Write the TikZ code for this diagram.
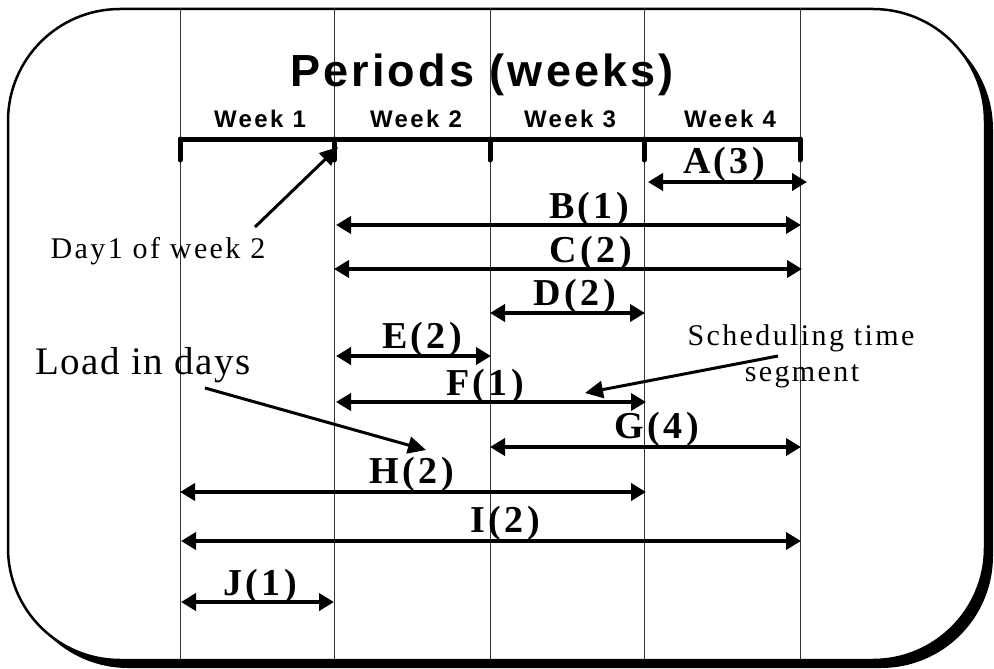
\documentclass[tikz,border=0pt]{standalone}
\usepackage{fontspec}
\setmainfont{Liberation Serif}
\newfontfamily\titlefont[LetterSpace=7]{Liberation Sans}
\newfontfamily\weekfont[LetterSpace=10]{Liberation Sans}
\newfontfamily\labfont[LetterSpace=9]{Liberation Serif}
\newfontfamily\notefont[LetterSpace=8]{Liberation Serif}
\newfontfamily\loadfont[LetterSpace=4]{Liberation Serif}
\usetikzlibrary{arrows.meta}
\begin{document}
\begin{tikzpicture}[x=1pt,y=-1pt,
  vline/.style={line width=0.9pt,black!80},
  axis/.style={line width=5pt},
  tickmark/.style={line width=5pt,line cap=round},
  seg/.style={line width=4pt,{Triangle[length=15pt,width=17pt]}-{Triangle[length=15pt,width=17pt]},shorten <=0pt,shorten >=0pt},
  note/.style={line width=3pt,-{Triangle[length=18pt,width=17pt]}},
  lab/.style={anchor=base,inner sep=0pt,font=\labfont\bfseries\fontsize{38}{40}\selectfont},
  wk/.style={anchor=base,inner sep=0pt,font=\weekfont\bfseries\fontsize{24}{26}\selectfont},
  txt/.style={anchor=base,inner sep=0pt,font=\notefont\fontsize{30}{34}\selectfont}
]
\useasboundingbox (0,0) rectangle (994,669);
% frame with shadow
\fill[black,rounded corners=112pt] (16,17) rectangle (993,668);
\draw[fill=white,line width=2.5pt,rounded corners=112pt] (8,9) rectangle (985,660);
% vertical lines
\foreach \n/\x in {1/180,2/334,3/490,4/644,5/800}{
  \coordinate (t\n) at (\x,8);
  \coordinate (b\n) at (\x,660);
  \draw[vline] (t\n) -- (b\n);
}
% axis
\coordinate (ax1) at (180,139);
\coordinate (ax2) at (334,139);
\coordinate (ax3) at (490,139);
\coordinate (ax4) at (644,139);
\coordinate (ax5) at (800,139);
\draw[axis] (ax1) -- (ax5);
\foreach \n in {1,...,5}{
  \coordinate (tk\n) at ([yshift=-21pt]ax\n);
  \draw[tickmark] (ax\n) -- (tk\n);
}
% titles
\node[anchor=base,inner sep=0pt,font=\titlefont\bfseries\fontsize{45}{50}\selectfont] (title) at (482,87) {Periods (weeks)};
\node[wk] (w1) at (260,127) {Week 1};
\node[wk] (w2) at (416,127) {Week 2};
\node[wk] (w3) at (570,127) {Week 3};
\node[wk] (w4) at (730,127) {Week 4};
% segments
\coordinate (A1) at (648,182); \coordinate (A2) at (807,182);
\coordinate (B1) at (336,225); \coordinate (B2) at (801,225);
\coordinate (C1) at (334,269); \coordinate (C2) at (802,269);
\coordinate (D1) at (490,313); \coordinate (D2) at (645,313);
\coordinate (E1) at (336,356); \coordinate (E2) at (491,356);
\coordinate (F1) at (336,402); \coordinate (F2) at (646,402);
\coordinate (G1) at (490,447); \coordinate (G2) at (801,447);
\coordinate (H1) at (180,492); \coordinate (H2) at (646,492);
\coordinate (I1) at (181,541); \coordinate (I2) at (801,541);
\coordinate (J1) at (181,602); \coordinate (J2) at (334,602);
\foreach \s in {A,B,C,D,E,F,G,H,I,J}{
  \draw[seg] (\s1) -- (\s2);
}
\node[lab] (lA) at (724,173) {A(3)};
\node[lab] (lB) at (589,218) {B(1)};
\node[lab] (lC) at (591,262) {C(2)};
\node[lab] (lD) at (575,305) {D(2)};
\node[lab] (lE) at (422,348) {E(2)};
\node[lab] (lF) at (485,395) {F(1)};
\node[lab] (lG) at (657,438) {G(4)};
\node[lab] (lH) at (412,483) {H(2)};
\node[lab] (lI) at (505,532) {I(2)};
\node[lab] (lJ) at (260,595) {J(1)};
% annotations
\node[txt] (day1) at (158,258) {Day1 of week 2};
\coordinate (day1s) at (255,227);
\coordinate (day1t) at (338,147);
\draw[note] (day1s) -- (day1t);
\node[anchor=base,inner sep=0pt,font=\loadfont\fontsize{39}{42}\selectfont] (load) at (143,374) {Load in days};
\coordinate (loads) at (205,388);
\coordinate (loadt) at (426,450);
\draw[note] (loads) -- (loadt);
\node[txt] (sched1) at (801,345) {Scheduling time};
\node[txt] (sched2) at (802,381) {segment};
\coordinate (scheds) at (778,356);
\coordinate (schedt) at (585,393);
\draw[note] (scheds) -- (schedt);
\end{tikzpicture}
\end{document}
